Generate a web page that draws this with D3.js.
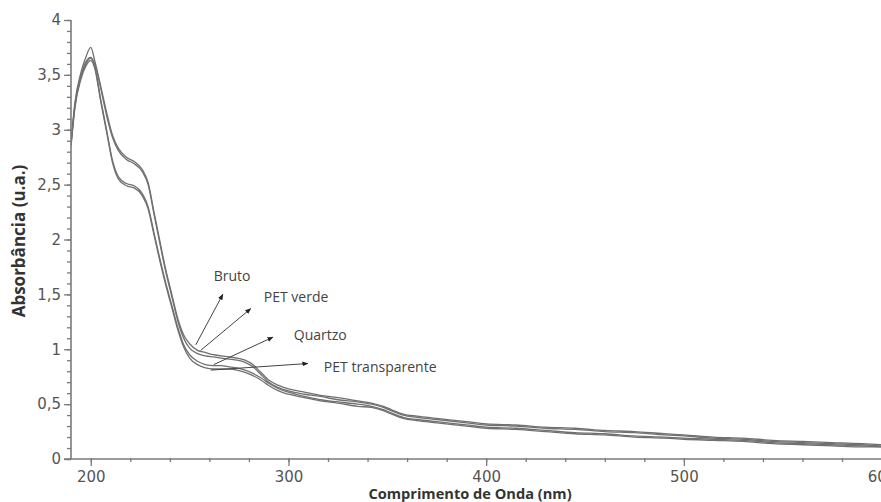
<!DOCTYPE html>
<html>
<head>
<meta charset="utf-8">
<script src="https://cdn.jsdelivr.net/npm/d3@7/dist/d3.min.js"></script>
<style>
  html, body { margin: 0; padding: 0; background: #fff; }
  svg { display: block; }
</style>
</head>
<body>
<svg id="chart" width="881" height="502"></svg>
<script>
// ---------- DATA ----------
const wavelengths = [190,192,195,197.5,200,202,205,208,211,214,218,222,226,229,232,235,238,241,244,247,250,254,258,262,266,270,274,278,282,286,290,295,300,308,316,325,335,342,348,352,358,365,375,390,400,415,430,445,460,475,490,500,515,530,545,560,575,590,600];

const bruto = [2.88,3.25,3.52,3.66,3.75,3.63,3.40,3.16,2.95,2.83,2.75,2.71,2.64,2.52,2.25,1.98,1.72,1.50,1.28,1.13,1.05,0.99,0.97,0.95,0.94,0.93,0.92,0.90,0.86,0.79,0.72,0.67,0.64,0.61,0.58,0.56,0.53,0.51,0.48,0.45,0.41,0.39,0.37,0.34,0.32,0.31,0.29,0.28,0.26,0.25,0.23,0.22,0.20,0.19,0.17,0.16,0.15,0.14,0.13];

const petVerde = [2.87,3.23,3.49,3.62,3.66,3.60,3.38,3.13,2.93,2.81,2.73,2.69,2.62,2.50,2.23,1.96,1.70,1.48,1.26,1.10,1.01,0.96,0.94,0.93,0.92,0.91,0.90,0.88,0.84,0.77,0.70,0.65,0.62,0.59,0.57,0.54,0.52,0.50,0.47,0.44,0.40,0.38,0.36,0.33,0.31,0.30,0.28,0.27,0.25,0.24,0.22,0.21,0.19,0.18,0.16,0.15,0.14,0.13,0.12];

const quartzo = [2.86,3.22,3.48,3.60,3.65,3.58,3.28,3.00,2.72,2.57,2.51,2.49,2.42,2.30,2.06,1.82,1.60,1.40,1.20,1.04,0.95,0.89,0.86,0.85,0.85,0.84,0.83,0.81,0.78,0.74,0.69,0.64,0.61,0.57,0.54,0.52,0.50,0.48,0.45,0.42,0.38,0.36,0.34,0.31,0.29,0.28,0.26,0.24,0.23,0.21,0.20,0.19,0.18,0.17,0.15,0.14,0.13,0.12,0.11];

const petTransparente = [2.85,3.20,3.46,3.58,3.63,3.56,3.26,2.98,2.70,2.55,2.49,2.47,2.40,2.28,2.04,1.80,1.58,1.38,1.18,1.02,0.92,0.86,0.83,0.82,0.82,0.82,0.81,0.79,0.76,0.72,0.67,0.62,0.59,0.56,0.53,0.51,0.48,0.47,0.44,0.41,0.37,0.35,0.33,0.30,0.28,0.27,0.25,0.23,0.22,0.20,0.19,0.18,0.17,0.16,0.14,0.13,0.12,0.11,0.11];

const seriesNames = ["Bruto", "PET verde", "Quartzo", "PET transparente"];
const seriesValues = [bruto, petVerde, quartzo, petTransparente];

// annotation: arrow start, arrow end, text anchor (nm, value)
const annStart = [[253.1,1.04],[255.6,0.99],[262.2,0.86],[260.7,0.81]];
const annEnd   = [[266.8,1.50],[280.9,1.37],[292.1,1.11],[309.8,0.87]];
const annText  = [[262.2,1.62],[287.5,1.43],[302.7,1.08],[317.9,0.79]];

const xMajorTicks = [200,300,400,500,600];
const xTickLabels = ["200","300","400","500","600"];
const yMajorTicks = [0,0.5,1,1.5,2,2.5,3,3.5,4];
const yTickLabels = ["0","0,5","1","1,5","2","2,5","3","3,5","4"];
const xTitle = "Comprimento de Onda (nm)";
const yTitle = "Absorbância (u.a.)";

// ---------- CHART ----------
const svg = d3.select("#chart");
const mLeft = 71, mRight = 881, mTop = 20, mBottom = 459;

const x = d3.scaleLinear().domain([190, 600]).range([mLeft, mLeft + (600-190)*1.977]);
const y = d3.scaleLinear().domain([0, 4]).range([mBottom, mTop]);

const axisColor = "#7a7a7a";
const labelColor = "#555";

// curves
const line = d3.line()
  .x((d, i) => x(wavelengths[i]))
  .y(d => y(d))
  .curve(d3.curveMonotoneX);

const plot = svg.append("g");
plot.append("defs").append("clipPath").attr("id", "clip")
  .append("rect").attr("x", mLeft).attr("y", 0).attr("width", mRight - mLeft).attr("height", mBottom);

plot.append("g").attr("clip-path", "url(#clip)")
  .selectAll("path").data(seriesValues).join("path")
  .attr("d", d => line(d))
  .attr("fill", "none")
  .attr("stroke", "#707070")
  .attr("stroke-width", 1.3);

// X axis
const xAxisG = svg.append("g").attr("transform", `translate(0,${mBottom})`);
xAxisG.append("g").call(d3.axisBottom(x).tickValues(d3.range(200, 601, 20)).tickSize(3).tickFormat(""))
  .call(g => g.select(".domain").remove())
  .call(g => g.selectAll(".tick line").attr("stroke", axisColor).attr("stroke-width", 1.3).attr("y1", -1));
xAxisG.append("g").call(d3.axisBottom(x).tickValues(xMajorTicks).tickSize(7)
    .tickFormat((d, i) => xTickLabels[i]))
  .call(g => g.select(".domain").remove())
  .call(g => g.selectAll(".tick line").attr("stroke", axisColor).attr("stroke-width", 1.3))
  .call(g => g.selectAll(".tick text")
    .attr("fill", labelColor).attr("font-family", "DejaVu Sans").attr("font-size", 15).attr("dy", "0.88em"));
xAxisG.append("line").attr("x1", 64).attr("x2", mRight).attr("y1", 0).attr("y2", 0)
  .attr("stroke", axisColor).attr("stroke-width", 1.6);

// Y axis
const yAxisG = svg.append("g").attr("transform", `translate(${mLeft},0)`);
yAxisG.append("g").call(d3.axisLeft(y).tickValues(d3.range(0, 41).map(v => v/10)).tickSize(4).tickFormat(""))
  .call(g => g.select(".domain").remove())
  .call(g => g.selectAll(".tick line").attr("stroke", axisColor).attr("stroke-width", 1.3));
yAxisG.append("g").call(d3.axisLeft(y).tickValues(yMajorTicks).tickSize(7)
    .tickFormat((d, i) => yTickLabels[i]))
  .call(g => g.select(".domain").remove())
  .call(g => g.selectAll(".tick line").attr("stroke", axisColor).attr("stroke-width", 1.3))
  .call(g => g.selectAll(".tick text")
    .attr("fill", labelColor).attr("font-family", "DejaVu Sans").attr("font-size", 15).attr("x", -10));
yAxisG.append("line").attr("x1", 0).attr("x2", 0).attr("y1", mTop).attr("y2", mBottom)
  .attr("stroke", axisColor).attr("stroke-width", 1.6);

// Titles
svg.append("text")
  .attr("x", 470).attr("y", 499)
  .attr("text-anchor", "middle")
  .attr("font-family", "Open Sans").attr("font-weight", "bold").attr("font-size", 14.6)
  .attr("fill", "#333").text(xTitle);
svg.append("text")
  .attr("transform", `translate(25,241) rotate(-90)`)
  .attr("text-anchor", "middle")
  .attr("font-family", "Open Sans").attr("font-weight", "bold").attr("font-size", 17)
  .attr("fill", "#333").text(yTitle);

// Annotations
svg.append("defs").append("marker")
  .attr("id", "arrow").attr("viewBox", "0 0 10 10").attr("refX", 9).attr("refY", 5)
  .attr("markerWidth", 6).attr("markerHeight", 6).attr("orient", "auto")
  .append("path").attr("d", "M0,1 L10,5 L0,9 Z").attr("fill", "#222");

const ann = svg.append("g");
seriesNames.forEach((name, i) => {
  ann.append("line")
    .attr("x1", x(annStart[i][0])).attr("y1", y(annStart[i][1]))
    .attr("x2", x(annEnd[i][0])).attr("y2", y(annEnd[i][1]))
    .attr("stroke", "#444").attr("stroke-width", 1)
    .attr("marker-end", "url(#arrow)");
  ann.append("text")
    .attr("x", x(annText[i][0])).attr("y", y(annText[i][1]))
    .attr("font-family", "Open Sans").attr("font-size", 14)
    .attr("fill", "#444").text(name);
});
</script>
</body>
</html>
